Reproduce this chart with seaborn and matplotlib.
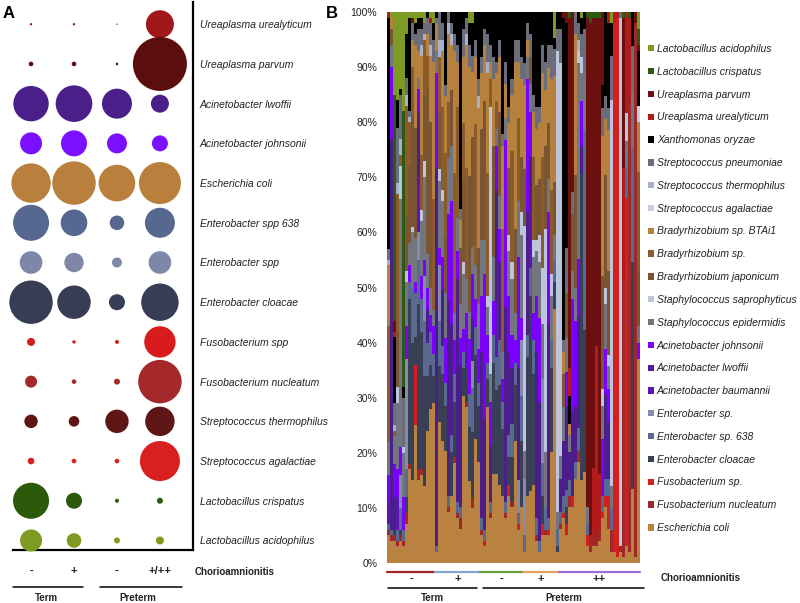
import numpy as np
import pandas as pd
import matplotlib
matplotlib.use("Agg")
import matplotlib.pyplot as plt
import matplotlib.transforms as mtransforms
from matplotlib.patches import Patch
from matplotlib.lines import Line2D
import seaborn as sns

sns.set_theme(style="white")
plt.rcParams["font.family"] = ["Liberation Sans", "DejaVu Sans"]

# ---------------- Panel A data ----------------
a_species = ["Ureaplasma urealyticum", "Ureaplasma parvum", "Acinetobacter lwoffii",
             "Acinetobacter johnsonii", "Escherichia coli", "Enterobacter spp 638",
             "Enterobacter spp", "Enterobacter cloacae", "Fusobacterium spp",
             "Fusobacterium nucleatum", "Streptococcus thermophilus",
             "Streptococcus agalactiae", "Lactobacillus crispatus", "Lactobacillus acidophilus"]
a_colors = ["#a01818", "#5c0d0d", "#4b1f8a", "#7a10ff", "#b8803c", "#56688f", "#7f87a8",
            "#363d55", "#d81c1c", "#a5282a", "#5e1515", "#d82020", "#2a5a0a", "#7f9a20"]
a_group_labels = ["-", "+", "-", "+/++"]
a_term_neg = [0.14, 0.53, 31.3, 12.1, 38.8, 32.4, 12.8, 47.1, 1.6, 3.6, 4.5, 1.1, 32.4, 12.1]
a_term_pos = [0.14, 0.53, 33.5, 16.9, 47.1, 17.7, 9.4, 27.9, 0.29, 0.53, 2.8, 0.53, 6.4, 5.3]
a_pre_neg = [0.05, 0.17, 22.5, 10.0, 33.5, 5.3, 2.5, 6.4, 0.4, 0.9, 13.7, 0.53, 0.4, 0.9]
a_pre_pos = [19.6, 72.9, 8.1, 6.4, 44.1, 22.5, 12.8, 35.0, 24.6, 47.1, 21.6, 40.0, 0.9, 1.6]

# ---------------- Panel B data ----------------
b_group_sizes = [16, 15, 14, 12, 27]
b_group_labels = ["-", "+", "-", "+", "++"]
b_group_colors = ["#a32626", "#86a3d6", "#6a9a3c", "#e3a25c", "#9b6dd3"]

EC = [5,4,4,3,4,3,7,17,15,25,15,16,14,24,28,29,
      2,25,22,20,9,12,18,8,6,30,28,15,10,22,18,
      5,3,28,8,16,16,14,12,8,12,10,22,6,10,
      2,12,13,14,4,2,5,5,5,20,48,2,
      6,8,5,10,10,15,18,15,16,3,2,3,3,4,8,10,6,2,2,1,2,1,3,2,13,1,37]
FN = [1,1,1,1,1,1,2,1,0,0,2,1,0,0,0,0,
      0,0,0,0,1,0,1,1,2,0,1,0,2,0,0,
      1,0,0,1,0,0,0,0,1,0,1,0,0,0,
      0,0,0,0,1,0,0,1,0,0,0,0,
      1,0,0,2,0,0,2,0,0,0,3,2,1,2,0,0,0,4,0,0,1,50,0,80,0,96,0]
FS = [0,0,0,0,0,0,0,0,0,11,0,0,0,0,0,0,
      0,0,0,0,0,0,0,0,0,0,0,0,0,0,0,
      0,1,0,0,0,0,0,0,0,2,0,0,1,0,
      0,0,0,0,0,0,2,0,1,0,0,0,
      0,1,2,0,2,0,0,0,0,2,0,0,0,0,1,2,6,0,95,97,0,0,62,0,0,0,0]
CL = [0,0,1,0,1,0,3,30,25,5,30,25,20,10,8,5,
      0,10,12,8,0,8,10,0,0,5,6,10,12,15,10,
      0,0,5,0,20,15,18,12,0,5,8,10,0,12,
      0,25,35,20,0,0,5,0,0,15,5,1,
      0,0,3,0,0,0,0,55,25,0,0,0,0,0,0,0,0,0,0,0,0,0,0,0,40,0,0]
E6 = [1,1,0,2,4,2,5,3,10,8,8,6,10,6,6,4,
      1,8,5,4,2,3,5,2,2,3,0,6,8,5,4,
      2,2,3,2,5,6,8,5,2,4,6,4,2,8,
      3,4,5,6,3,2,6,4,2,5,4,3,
      2,3,3,3,0,3,4,0,35,2,0,0,0,0,3,3,3,4,0,0,0,0,5,0,20,0,0]
ES = [0,0,0,0,6,0,20,0,0,0,5,0,8,0,0,0,
      0,10,0,0,0,0,0,0,0,0,0,0,5,0,0,
      0,0,0,0,0,0,0,0,0,0,0,0,6,10,
      10,0,0,0,0,0,15,0,0,0,0,0,
      0,0,0,0,0,0,0,0,0,0,0,0,0,0,0,0,0,0,0,0,0,0,0,0,0,0,0]
AB = [4,0,0,6,0,0,0,0,0,0,10,0,0,0,0,0,
      0,0,0,0,0,0,0,0,0,0,6,0,0,0,0,
      0,0,0,0,0,10,0,0,0,0,0,0,0,0,
      0,0,10,0,0,0,0,0,0,0,0,0,
      0,0,0,0,0,0,0,0,0,0,0,0,0,0,0,0,0,0,0,0,0,0,0,0,0,0,0]
AL = [0,71,6,0,0,0,0,0,0,0,12,0,0,6,0,0,
      68,0,10,0,35,20,0,40,25,0,0,0,8,0,0,
      30,20,0,10,0,20,14,0,35,15,10,0,20,0,
      0,22,10,0,30,25,0,0,35,0,0,0,
      6,10,15,5,15,10,20,5,0,0,0,0,0,0,0,15,10,0,0,0,0,0,0,0,0,0,0]
AJ = [5,13,6,5,5,6,6,3,0,2,4,4,3,4,3,5,
      17,3,6,8,15,22,6,5,5,4,4,10,8,5,6,
      10,26,5,8,6,8,6,4,30,10,6,4,20,4,
      0,24,8,5,10,15,0,0,20,0,0,0,
      0,0,6,0,20,15,10,8,0,0,0,0,0,0,10,8,6,0,0,0,0,0,0,0,0,0,3]
SE = [6,4,5,12,45,8,8,4,10,8,2,10,15,6,5,3,
      4,12,10,8,10,10,5,6,6,10,6,5,5,6,8,
      10,6,5,5,8,3,6,5,4,8,10,5,10,15,
      5,4,5,10,8,10,10,10,6,8,5,3,
      4,6,6,3,5,6,35,5,10,3,0,0,0,0,6,8,4,4,0,0,0,0,5,0,10,0,3]
SS = [0,0,0,3,6,1,2,0,1,0,0,2,3,0,0,0,
      0,2,2,0,0,0,0,0,0,2,0,0,0,0,0,
      0,0,2,48,0,0,0,0,0,3,3,0,0,4,
      40,0,0,3,2,5,10,40,0,4,0,82,
      70,0,0,0,0,0,2,3,0,0,0,0,0,0,3,3,2,70,0,0,95,0,5,0,0,0,0]
BJ = [0,3,0,10,0,0,10,14,20,20,0,0,12,30,30,0,
      0,10,0,10,0,10,0,0,10,15,0,25,20,0,10,
      20,25,0,0,20,0,15,0,0,12,0,15,0,10,
      10,0,5,0,10,10,0,15,10,0,10,0,
      0,6,8,0,10,20,0,0,0,0,0,0,0,0,20,20,15,0,0,0,0,0,0,0,0,0,10]
BS = [21,0,1,25,2,0,20,8,9,0,0,10,10,6,0,20,
      0,10,15,15,10,0,25,20,0,10,20,0,0,25,0,
      0,0,22,5,0,5,0,22,0,0,20,0,15,0,
      0,0,0,15,0,0,20,0,0,15,0,0,
      0,0,0,0,0,0,0,0,0,0,0,0,0,0,0,0,0,0,0,0,0,0,0,0,0,0,18]
BT = [11,2,0,0,0,0,0,0,5,15,5,18,0,4,12,25,
      5,0,10,10,12,8,22,8,5,12,22,20,12,12,25,
      10,10,18,3,12,5,10,15,6,8,10,30,10,14,
      15,3,0,8,10,10,15,10,10,20,20,0,
      0,4,0,2,0,25,0,0,0,0,0,0,0,0,25,10,25,0,0,0,0,0,0,0,0,0,9]
SA = [0,0,0,0,0,0,0,0,0,0,0,0,0,0,0,0,
      0,0,0,0,0,0,0,0,0,0,0,0,0,0,0,
      0,0,0,0,0,0,0,0,0,0,0,0,0,0,
      0,0,0,0,0,0,0,0,0,0,0,0,
      0,0,0,0,0,0,0,0,0,0,0,0,0,0,0,0,0,0,0,0,0,0,0,0,0,0,3]
ST = [1,0,1,2,3,0,2,1,0,0,0,2,1,0,2,0,
      0,3,2,0,2,2,0,0,0,0,2,0,0,0,2,
      0,0,2,0,0,0,0,0,0,0,0,0,0,0,
      0,0,0,0,0,0,0,0,0,0,0,0,
      0,0,0,0,0,0,2,0,0,0,0,0,0,0,0,0,0,0,0,0,0,0,0,0,0,0,0]
SP = [2,0,4,10,8,9,3,1,3,2,4,3,2,3,4,4,
      1,5,3,2,2,2,3,3,2,5,3,4,3,3,3,
      3,3,5,3,4,2,3,2,4,3,3,4,4,4,
      4,3,4,3,4,3,5,5,4,6,5,4,
      6,2,8,0,4,4,3,4,8,0,0,0,0,0,5,4,4,8,0,0,1,0,0,0,8,0,0]
XO = [42,0,12,5,1,2,8,17,0,2,2,2,0,1,0,3,
      1,0,2,13,0,2,4,6,35,3,1,4,6,5,12,
      8,3,4,6,8,9,5,22,9,17,12,5,5,8,
      9,2,4,15,17,17,6,9,6,6,2,3,
      3,58,40,5,0,0,2,3,3,0,0,0,0,0,4,15,15,6,0,0,0,0,0,0,6,0,10]
UU = [1,0,1,0,0,0,0,0,0,0,0,0,0,0,1,0,
      0,0,0,0,0,0,0,0,0,0,0,0,0,0,0,
      0,0,0,0,0,0,0,0,0,0,0,0,0,0,
      0,0,0,0,0,0,0,0,0,0,0,0,
      0,0,0,5,0,0,0,0,0,0,0,12,35,10,0,0,2,0,2,1,0,20,18,15,0,0,0]
UP = [0,0,2,0,0,0,0,0,1,0,0,0,0,0,0,0,
      0,0,0,0,0,0,0,0,0,0,0,0,0,0,0,
      0,0,0,0,0,0,0,0,0,0,0,0,0,0,
      0,0,0,0,0,0,0,0,0,0,0,0,
      0,1,2,63,32,0,0,0,0,88,93,81,59,82,13,0,0,0,0,0,0,27,0,0,0,2,1]
LC = [0,0,41,0,0,50,0,0,0,0,0,0,0,0,0,0,
      0,0,0,0,0,0,0,0,0,0,0,0,0,0,0,
      0,0,0,0,0,0,0,0,0,0,0,0,0,0,
      0,0,0,0,0,0,0,0,0,0,0,0,
      0,0,0,1,0,0,0,0,0,1,2,1,1,1,0,0,0,0,0,0,0,1,0,1,0,0,3]
LA = [0,1,15,16,14,18,4,1,1,2,1,1,2,0,1,2,
      0,0,0,0,0,0,0,0,0,0,0,2,2,0,0,
      0,0,0,0,0,0,0,0,0,0,0,0,0,0,
      0,0,0,0,0,0,0,0,0,0,5,0,
      0,0,0,0,0,0,0,1,0,0,0,0,0,0,0,0,0,2,0,0,0,0,0,0,0,0,3]

# stacking order bottom -> top : (legend name, values, color)
b_stack = [
    ("Escherichia coli", EC, "#b98240"),
    ("Fusobacterium nucleatum", FN, "#a02828"),
    ("Fusobacterium sp.", FS, "#d51f1f"),
    ("Enterobacter cloacae", CL, "#393f55"),
    ("Enterobacter sp. 638", E6, "#586a90"),
    ("Enterobacter sp.", ES, "#858cab"),
    ("Acinetobacter baumannii", AB, "#5d16b5"),
    ("Acinetobacter lwoffii", AL, "#4b1e8c"),
    ("Acinetobacter johnsonii", AJ, "#7a00ff"),
    ("Staphylococcus epidermidis", SE, "#73767f"),
    ("Staphylococcus saprophyticus", SS, "#bcc5dc"),
    ("Bradyrhizobium japonicum", BJ, "#7a5532"),
    ("Bradyrhizobium sp.", BS, "#8b5b2b"),
    ("Bradyrhizobium sp. BTAi1", BT, "#b5813d"),
    ("Streptococcus agalactiae", SA, "#c5cde3"),
    ("Streptococcus thermophilus", ST, "#a7b0cc"),
    ("Streptococcus pneumoniae", SP, "#6b6e7a"),
    ("Xanthomonas oryzae", XO, "#000000"),
    ("Ureaplasma urealyticum", UU, "#b31b1b"),
    ("Ureaplasma parvum", UP, "#6b0f0f"),
    ("Lactobacillus crispatus", LC, "#2b5a10"),
    ("Lactobacillus acidophilus", LA, "#7f9a22"),
]

W, H = 800, 603
fig = plt.figure(figsize=(W / 100, H / 100), dpi=100)

def fx(px):
    return px / W

def fy(py):
    return 1 - py / H

TXT = "#222222"

# ---------------- Panel A ----------------
axA = fig.add_axes([fx(13), fy(550), fx(193) - fx(13), fy(2) - fy(550)])
rows = []
for gi, vals in enumerate([a_term_neg, a_term_pos, a_pre_neg, a_pre_pos]):
    for si, v in enumerate(vals):
        rows.append({"group": gi, "row": si, "species": a_species[si], "value": v})
dfA = pd.DataFrame(rows)
k = 20.736  # points^2 per unit
vmin, vmax = dfA["value"].min(), dfA["value"].max()
sns.scatterplot(data=dfA, x="group", y="row", size="value", sizes=(k * vmin, k * vmax),
                hue="species", palette=dict(zip(a_species, a_colors)), linewidth=0,
                legend=False, ax=axA, alpha=1)
for coll in axA.collections:
    coll.set_clip_on(False)
axA.set_xlim(-0.42, 3.77)
axA.set_ylim(13.24, -0.56)
axA.set_xlabel("")
axA.set_ylabel("")
axA.set_xticks([])
axA.yaxis.tick_right()
axA.set_yticks(range(len(a_species)))
axA.set_yticklabels(a_species, fontstyle="italic", fontsize=7.5, color=TXT)
axA.tick_params(axis="y", length=0, pad=5)
for s in ["left", "top"]:
    axA.spines[s].set_visible(False)
for s in ["right", "bottom"]:
    axA.spines[s].set_color("black")
    axA.spines[s].set_linewidth(1.6)
    axA.spines[s].set_zorder(0.5)

trA = mtransforms.blended_transform_factory(axA.transData, axA.transAxes)
for i, lab in enumerate(a_group_labels):
    axA.text(i, -0.0385, lab, transform=trA, ha="center", va="center",
             fontsize=8, fontweight="bold", color=TXT, clip_on=False)
axA.text(3.81, -0.0395, "Chorioamnionitis", transform=trA, ha="left", va="center",
         fontsize=7, fontweight="bold", color=TXT, clip_on=False)
for x0, x1, lab, xc in [(-0.42, 1.21, "Term", 0.35), (1.6, 3.51, "Preterm", 2.49)]:
    axA.add_line(Line2D([x0, x1], [-0.068, -0.068], transform=trA, color="black",
                        lw=1.1, clip_on=False))
    axA.text(xc, -0.087, lab, transform=trA, ha="center", va="center",
             fontsize=7, fontweight="bold", color=TXT, clip_on=False)

# ---------------- Panel B ----------------
axB = fig.add_axes([fx(387), fy(563), fx(640) - fx(387), fy(12) - fy(563)])
M = np.array([vals for _, vals, _ in b_stack], dtype=float)
M = M / M.sum(axis=0) * 100.0
n = M.shape[1]
xs = np.arange(n)
bottom = np.zeros(n)
for (name, _, color), vals in zip(b_stack, M):
    axB.bar(xs, vals, bottom=bottom, width=1.0, color=color, linewidth=0,
            antialiased=False, label=name)
    bottom += vals
axB.set_xlim(-0.5, n - 0.5)
axB.set_ylim(0, 100)
axB.set_xticks([])
axB.set_yticks(np.arange(0, 101, 10))
axB.set_yticklabels([f"{t}%" for t in range(0, 101, 10)], fontsize=7.5, color=TXT)
axB.tick_params(axis="y", length=0, pad=7)
for s in axB.spines.values():
    s.set_visible(False)

trB = mtransforms.blended_transform_factory(axB.transData, axB.transAxes)
edges = np.concatenate([[0], np.cumsum(b_group_sizes)])
for gi in range(len(b_group_sizes)):
    x0, x1 = edges[gi] - 0.5, edges[gi + 1] - 0.5
    axB.add_line(Line2D([x0, x1], [-0.0163, -0.0163], transform=trB,
                        color=b_group_colors[gi], lw=1.6, clip_on=False))
    axB.text((x0 + x1) / 2, -0.0285, b_group_labels[gi], transform=trB, ha="center",
             va="center", fontsize=8, fontweight="bold", color=TXT, clip_on=False)
for x0, x1, lab in [(-0.2, 29.5, "Term"), (31.5, 84.8, "Preterm")]:
    axB.add_line(Line2D([x0, x1], [-0.0454, -0.0454], transform=trB, color="black",
                        lw=1.1, clip_on=False))
    axB.text((x0 + x1) / 2, -0.0635, lab, transform=trB, ha="center", va="center",
             fontsize=7, fontweight="bold", color=TXT, clip_on=False)
axB.text(90.5, -0.0272, "Chorioamnionitis", transform=trB, ha="left", va="center",
         fontsize=7, fontweight="bold", color=TXT, clip_on=False)

handles = [Patch(facecolor=c, edgecolor="none", label=nm) for nm, _, c in b_stack[::-1]]
leg = fig.legend(handles=handles, loc="upper left", bbox_to_anchor=(fx(648), fy(44)),
                 frameon=False, fontsize=7.5, labelspacing=1.23, handlelength=0.55,
                 handleheight=0.55, handletextpad=0.3, borderpad=0, borderaxespad=0)
for t in leg.get_texts():
    t.set_fontstyle("italic")
    t.set_color(TXT)

fig.text(fx(3), fy(6), "A", fontsize=12, fontweight="bold", ha="left", va="top", color="black")
fig.text(fx(326), fy(6), "B", fontsize=12, fontweight="bold", ha="left", va="top", color="black")

fig.savefig("out.png", dpi=100)
